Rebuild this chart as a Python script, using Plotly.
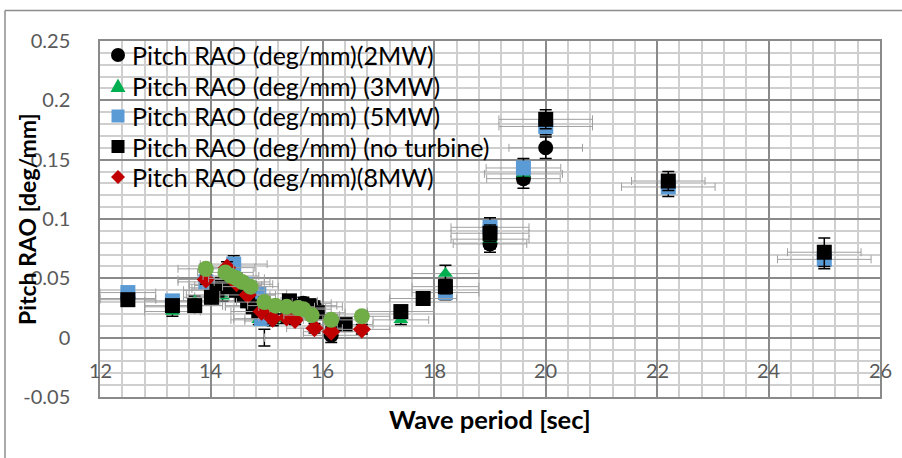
import plotly.graph_objects as go

# Wave period [sec] and pitch RAO [deg/mm] for each configuration
period_2mw = [12.5, 13.3, 13.7, 14.05, 14.15, 14.3, 14.45, 14.55, 14.65, 14.75, 14.95, 15.4, 15.65, 15.85, 16.15, 19.0, 19.6, 20.0]
rao_2mw = [0.033, 0.026, 0.027, 0.036, 0.041, 0.044, 0.040, 0.036, 0.031, 0.027, 0.0, 0.029, 0.029, 0.026, 0.002, 0.079, 0.134, 0.160]
err_t_2mw = [0.5, 0.5, 0.5, 0.5, 0.5, 0.6, 0.5, 0.5, 0.6, 0.5, 0.0, 0.5, 0.5, 0.5, 0.5, 0.66, 0.66, 0.66]
err_r_2mw = [0.004, 0.004, 0.004, 0.005, 0.005, 0.005, 0.005, 0.005, 0.005, 0.005, 0.007, 0.004, 0.005, 0.005, 0.006, 0.007, 0.008, 0.009]

period_3mw = [13.3, 13.7, 14.2, 14.85, 15.1, 15.3, 17.4, 18.2, 19.0, 19.6]
rao_3mw = [0.022, 0.031, 0.035, 0.015, 0.014, 0.016, 0.015, 0.054, 0.083, 0.138]
err_t_3mw = [0.5, 0.5, 0.5, 0.5, 0.5, 0.5, 0.5, 0.6, 0.7, 0.7]
err_r_3mw = [0.004, 0.004, 0.004, 0.004, 0.004, 0.004, 0.004, 0.007, 0.008, 0.008]

period_5mw = [12.5, 13.3, 13.9, 14.1, 14.4, 14.6, 14.85, 14.9, 15.4, 18.2, 19.0, 19.6, 20.0, 22.2, 25.0]
rao_5mw = [0.038, 0.031, 0.047, 0.042, 0.062, 0.045, 0.037, 0.016, 0.030, 0.038, 0.093, 0.143, 0.178, 0.127, 0.066]
err_t_5mw = [0.5, 0.5, 0.5, 0.5, 0.6, 0.5, 0.5, 0.5, 0.5, 0.6, 0.7, 0.67, 0.84, 0.84, 0.84]
err_r_5mw = [0.005, 0.005, 0.005, 0.005, 0.007, 0.005, 0.005, 0.004, 0.005, 0.006, 0.008, 0.008, 0.007, 0.008, 0.008]

period_none = [12.5, 13.3, 13.7, 14.0, 14.1, 14.2, 14.35, 14.45, 14.55, 14.65, 14.75, 14.85, 15.4, 15.75, 15.9, 16.4, 17.4, 17.8, 18.2, 19.0, 20.0, 22.2, 25.0]
rao_none = [0.032, 0.027, 0.027, 0.034, 0.040, 0.045, 0.043, 0.040, 0.036, 0.031, 0.026, 0.022, 0.031, 0.027, 0.021, 0.011, 0.022, 0.033, 0.043, 0.088, 0.184, 0.132, 0.072]
err_t_none = [0.5, 0.5, 0.5, 0.5, 0.6, 0.6, 0.5, 0.5, 0.6, 0.5, 0.5, 0.5, 0.5, 0.5, 0.5, 0.5, 0.6, 0.6, 0.6, 0.7, 0.84, 0.66, 0.66]
err_r_none = [0.005, 0.005, 0.005, 0.005, 0.005, 0.005, 0.005, 0.005, 0.005, 0.005, 0.005, 0.005, 0.005, 0.005, 0.005, 0.005, 0.004, 0.004, 0.006, 0.007, 0.008, 0.008, 0.012]

period_8mw = [13.9, 14.28, 14.45, 14.65, 14.9, 15.1, 15.35, 15.5, 15.85, 16.15, 16.7]
rao_8mw = [0.049, 0.059, 0.046, 0.036, 0.022, 0.016, 0.017, 0.015, 0.008, 0.005, 0.007]
err_t_8mw = [0.5, 0.5, 0.5, 0.5, 0.5, 0.5, 0.5, 0.5, 0.5, 0.5, 0.5]
err_r_8mw = [0.004, 0.005, 0.004, 0.004, 0.004, 0.004, 0.004, 0.004, 0.004, 0.004, 0.004]

period_10mw = [13.9, 14.25, 14.35, 14.45, 14.55, 14.7, 14.95, 15.15, 15.35, 15.55, 15.65, 15.8, 16.15, 16.7]
rao_10mw = [0.058, 0.055, 0.052, 0.050, 0.047, 0.043, 0.030, 0.027, 0.026, 0.025, 0.024, 0.019, 0.015, 0.018]
err_t_10mw = [0.5, 0.5, 0.5, 0.5, 0.5, 0.5, 0.5, 0.5, 0.5, 0.5, 0.5, 0.5, 0.5, 0.5]
err_r_10mw = [0.004, 0.004, 0.004, 0.004, 0.004, 0.004, 0.004, 0.004, 0.004, 0.004, 0.004, 0.004, 0.004, 0.004]

x_ticks = [12, 14, 16, 18, 20, 22, 24, 26]
y_ticks = [-0.05, 0, 0.05, 0.1, 0.15, 0.2, 0.25]
y_tick_text = ["-0.05", "0", "0.05", "0.1", "0.15", "0.2", "0.25"]

FONT = "Lato, Carlito, Calibri, sans-serif"
W, H = 902, 458
M = dict(l=100, r=22, t=41, b=61)
PW, PH = W - M["l"] - M["r"], H - M["t"] - M["b"]


def px_x(px):
    """Page pixel column -> paper fraction."""
    return (px - M["l"]) / PW


def px_y(py):
    """Page pixel row -> paper fraction."""
    return (H - M["b"] - py) / PH


series = [
    dict(name="Pitch RAO (deg/mm)(2MW)", x=period_2mw, y=rao_2mw, ex=err_t_2mw, ey=err_r_2mw,
         symbol="circle", color="#000000", size=15, legend=True),
    dict(name="Pitch RAO (deg/mm) (3MW)", x=period_3mw, y=rao_3mw, ex=err_t_3mw, ey=err_r_3mw,
         symbol="triangle-up", color="#00b050", size=13, legend=True),
    dict(name="Pitch RAO (deg/mm) (5MW)", x=period_5mw, y=rao_5mw, ex=err_t_5mw, ey=err_r_5mw,
         symbol="square", color="#5b9bd5", size=15, legend=True),
    dict(name="Pitch RAO (deg/mm) (no turbine)", x=period_none, y=rao_none, ex=err_t_none, ey=err_r_none,
         symbol="square", color="#000000", size=15, legend=True),
    dict(name="Pitch RAO (deg/mm)(8MW)", x=period_8mw, y=rao_8mw, ex=err_t_8mw, ey=err_r_8mw,
         symbol="diamond", color="#c00000", size=14, legend=True),
    dict(name="Pitch RAO (deg/mm)(10MW)", x=period_10mw, y=rao_10mw, ex=err_t_10mw, ey=err_r_10mw,
         symbol="circle", color="#70ad47", size=16, legend=False),
]

fig = go.Figure()
for s in series:
    # the 2MW run at 14.95 s only has its error bar plotted
    sizes = [0 if (s["x"] is period_2mw and v == 0.0) else s["size"] for v in s["y"]]
    fig.add_trace(go.Scatter(
        x=s["x"], y=s["y"], mode="markers", name=s["name"], showlegend=False,
        marker=dict(symbol=s["symbol"], color=s["color"], size=sizes, opacity=1, line=dict(width=0)),
        error_x=dict(type="data", array=s["ex"], color="#a0a0a0", thickness=1, width=4),
        error_y=dict(type="data", array=s["ey"], color="#000000", thickness=1.5, width=6),
    ))

fig.update_xaxes(
    range=[12, 26], dtick=2, tick0=12, showticklabels=False, ticks="",
    showgrid=True, gridcolor="#8a8a8a", gridwidth=1.5, zeroline=False,
    minor=dict(dtick=0.4, showgrid=True, gridcolor="#cfcfcf", gridwidth=1.5),
    showline=True, linecolor="#8a8a8a", linewidth=1.5, mirror=True,
)
fig.update_yaxes(
    range=[-0.05, 0.25], tickvals=y_ticks, ticktext=y_tick_text, ticks="",
    ticklabelstandoff=24,
    tickfont=dict(family=FONT, size=20, color="#595959"),
    showgrid=True, gridcolor="#8a8a8a", gridwidth=1.5, zeroline=False,
    minor=dict(dtick=0.01, showgrid=True, gridcolor="#cfcfcf", gridwidth=1.5),
    showline=True, linecolor="#8a8a8a", linewidth=1.5, mirror=True,
)

annotations = []
# x tick labels sit just under the zero line
for t in x_ticks:
    annotations.append(dict(x=t, y=0, xref="x", yref="y", text=str(t), showarrow=False,
                            yanchor="middle", xanchor="center", yshift=-32,
                            font=dict(family=FONT, size=20, color="#595959")))
annotations.append(dict(x=0.5, y=px_y(419), xref="paper", yref="paper", text="<b>Wave period [sec]</b>",
                        showarrow=False, xanchor="center", yanchor="middle",
                        font=dict(family=FONT, size=25.5, color="#000000")))
annotations.append(dict(x=px_x(27), y=0.5, xref="paper", yref="paper", text="<b>Pitch RAO [deg/mm]</b>",
                        textangle=-90, showarrow=False, xanchor="center", yanchor="middle",
                        font=dict(family=FONT, size=23, color="#000000")))

# Legend block in the upper-left corner of the plot: key symbol + label per series
KEY_PATHS = {
    "triangle-up": "M -7.5 -6.5 L 7.5 -6.5 L 0 7 Z",
    "diamond": "M 0 -7 L 7 0 L 0 7 L -7 0 Z",
}
shapes = []
row = 0
for s in series:
    if not s["legend"]:
        continue
    ky = px_y(55 + 30.5 * row)
    kx = px_x(118)
    base = dict(xref="paper", yref="paper", xsizemode="pixel", ysizemode="pixel",
                xanchor=kx, yanchor=ky, fillcolor=s["color"], line=dict(width=0))
    if s["symbol"] == "circle":
        shapes.append(dict(base, type="circle", x0=-7, x1=7, y0=-7, y1=7))
    elif s["symbol"] == "square":
        shapes.append(dict(base, type="rect", x0=-6.5, x1=6.5, y0=-6.5, y1=6.5))
    else:
        shapes.append(dict(base, type="path", path=KEY_PATHS[s["symbol"]]))
    annotations.append(dict(x=px_x(130), y=ky, xref="paper", yref="paper", text=s["name"],
                            showarrow=False, xanchor="left", yanchor="middle",
                            font=dict(family=FONT, size=25, color="#000000")))
    row += 1

# chart-area frame
shapes += [
    dict(type="line", xref="paper", yref="paper", x0=px_x(5), x1=px_x(910), y0=px_y(10.5), y1=px_y(10.5),
         line=dict(color="#8c8c8c", width=1.5)),
    dict(type="line", xref="paper", yref="paper", x0=px_x(5), x1=px_x(5), y0=px_y(10.5), y1=px_y(470),
         line=dict(color="#8c8c8c", width=1.5)),
]

fig.update_layout(
    width=W, height=H,
    margin=M,
    paper_bgcolor="white", plot_bgcolor="white",
    showlegend=False,
    annotations=annotations,
    shapes=shapes,
)

fig.write_html("out.html")
